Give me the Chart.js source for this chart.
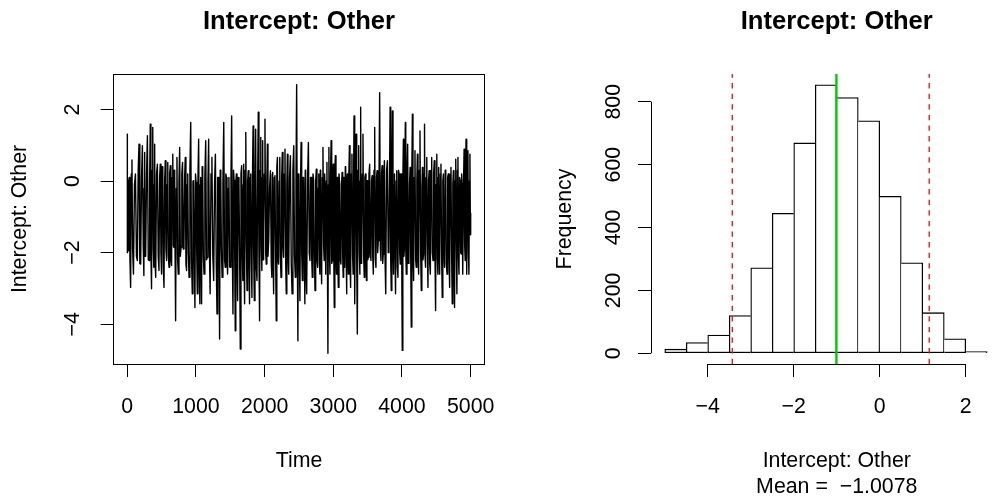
<!DOCTYPE html>
<html><head><meta charset="utf-8">
<script src="https://cdn.jsdelivr.net/npm/chart.js@4.4.1/dist/chart.umd.min.js"></script>
<style>
html,body{margin:0;padding:0;overflow:hidden;background:#fff;width:1002px;height:496px;}
canvas{position:absolute;top:0;}
#c1{left:0;}
#c2{left:501px;}
</style></head><body>
<canvas id="c1" width="501" height="496"></canvas>
<canvas id="c2" width="522" height="496"></canvas>
<script>
// ---------------- data ----------------
const titleText = 'Intercept: Other';
const nIter = 5000;
// trace: positions (iteration) of read spikes, upper/lower extremes, and core band values
const traceIter = [6,44,83,141,189,239,262,312,349,384,408,457,495,530,568,603,641,676,699,738,778,821,859,894,942,981,1015,1054,1078,1112,1160,1200,
1252,1302,1340,1375,1423,1456,1495,1535,1568,1602,1641,1680,1704,1739,1776,1811,1845,1884,1922,1957,1980,2020,2053,2103,2126,2165,2199,2234,2272,2311,2344,2394,2442,2481,
2510,2544,2583,2606,2656,2689,2729,2767,2802,2825,2864,2889,2918,2947,2981,3010,3043,3068,3107,3141,3166,3189,3214,3247,3286,3311,3345,3384,3407,3447,3480,3505,3544,3578,3617,3650,3690,3723,3757,
3806,3840,3873,3902,3937,3971,4000,4033,4058,4097,4131,4164,4204,4237,4277,4310,4339,4374,4408,4447,4485,4520,4543,4582,4616,4651,4689,4728,4761,4796,4826,4859,4884,4917,4942,4971,5000];
const traceHigh = [1.31,0.10,0.59,0.20,1.03,0.99,0.80,1.27,1.59,1.50,1.03,0.47,0.47,0.38,0.57,0.52,0.43,0.75,0.15,0.66,0.94,0.52,0.66,0.20,1.64,0.01,-0.04,1.17,0.10,0.10,1.13,1.17,
0.66,0.75,0.10,0.06,1.64,0.10,0.10,1.82,0.01,0.20,-0.08,0.43,0.47,1.36,0.29,0.20,1.54,1.45,1.92,1.22,1.13,1.73,1.03,0.29,0.24,0.15,0.66,0.66,0.80,0.89,0.75,0.71,0.99,2.69,
-0.46,1.08,0.10,-0.55,1.08,0.10,0.01,0.33,0.20,0.01,0.94,-0.08,0.52,0.94,1.13,0.47,0.71,0.10,-0.08,0.24,0.10,0.24,0.20,0.99,0.75,1.82,1.31,0.99,2.06,1.31,0.20,0.01,0.47,0.15,1.50,0.29,2.47,0.43,0.57,
0.57,2.06,1.96,0.20,0.29,0.20,0.20,1.17,1.64,1.03,0.38,1.87,0.85,0.75,1.40,0.38,1.59,0.66,0.29,0.66,0.57,0.75,0.38,0.47,0.20,0.01,0.20,0.38,0.29,0.61,0.66,0.01,-0.08,0.89,1.17,0.85,0.75];
const traceLow = [-1.94,-2.97,-2.60,-2.22,-2.32,-2.64,-2.04,-2.22,-3.01,-2.41,-2.69,-2.50,-2.60,-2.97,-2.22,-2.41,-2.36,-1.85,-3.90,-2.60,-1.85,-1.76,-2.50,-2.69,-3.15,-3.53,-3.15,-3.43,-3.43,-2.60,-2.13,-3.15,
-2.78,-3.71,-4.41,-2.69,-2.41,-2.60,-2.41,-3.71,-4.18,-3.34,-4.69,-2.78,-3.43,-3.06,-3.43,-3.25,-3.34,-2.78,-3.90,-2.50,-1.39,-2.32,-1.67,-2.69,-3.15,-3.90,-2.32,-2.69,-2.13,-3.15,-2.60,-3.15,-2.69,-4.46,
-3.34,-2.78,-3.43,-3.15,-2.22,-2.69,-3.06,-2.41,-2.60,-2.87,-2.22,-2.60,-4.81,-2.60,-2.22,-3.53,-2.60,-2.97,-2.32,-2.69,-2.41,-3.15,-2.60,-2.97,-2.60,-3.43,-4.27,-2.60,-2.22,-2.69,-2.78,-2.13,-2.22,-2.60,-2.41,-1.67,-2.22,-2.04,-3.15,
-1.85,-3.06,-2.60,-3.15,-2.69,-2.32,-4.73,-1.85,-2.60,-2.22,-4.08,-2.78,-2.41,-2.60,-3.06,-2.04,-2.41,-2.97,-2.60,-2.22,-3.62,-2.60,-2.60,-3.25,-2.41,-2.60,-2.97,-3.43,-3.53,-3.15,-2.60,-2.04,-2.60,-2.22,-2.60,-2.60,-1.01];
const traceCoreLow = [-2.0,-2.2,-1.9,-2.1,-2.3,-1.8,-2.1,-2.2,-2.0,-1.9,-2.3,-2.1,-2.0,-2.4,-1.9,-2.1,-2.2,-1.8,-2.0,-2.2,
-2.1,-1.9,-2.3,-2.0,-2.2,-2.1,-1.9,-2.4,-2.0,-2.1,-2.2,-1.8,-2.1,-2.3,-2.0,-1.9,-2.2,-2.1,-2.4,-2.0,
-1.9,-2.2,-2.1,-2.0,-2.3,-1.8,-2.1,-2.2,-2.0,-2.4,-2.1,-1.9,-2.2,-2.0,-2.1,-2.3,-1.9,-2.0,-2.2,-2.1,
-1.8,-2.2,-2.0,-2.3,-2.1,-1.9,-2.2,-2.0,-2.1,-2.4,-2.0,-2.1,-1.9,-2.2,-2.3,-2.0,-1.8,-2.1,-2.2,-2.0,
-2.3,-1.9,-2.1,-2.0,-2.2,-2.1,-2.4,-1.9,-2.0,-2.2,-2.1,-1.8,-2.2,-2.0,-2.3,-2.1,-1.9,-2.2,-2.0,-2.1,
-2.2,-2.0,-1.9,-2.3,-2.1,-2.0,-2.2,-1.8,-2.1,-2.4,-2.0,-2.2,-2.1,-1.9,-2.3,-2.0,-2.1,-2.2,-1.9,-2.0,
-2.2,-2.1,-1.8,-2.3,-2.0,-2.1,-2.2,-1.9,-2.1,-2.0,-2.3,-2.0,-2.1,-2.2,-1.9,-2.1,-2.0,-2.2,-1.8,-2.1,
-2.0,-1.5];
const traceCoreHigh = [0.0,0.2,-0.1,0.3,0.1,-0.2,0.2,0.0,0.3,-0.1,0.2,0.1,0.4,0.0,-0.1,0.2,0.1,0.3,-0.2,0.0,
0.2,0.1,-0.1,0.3,0.0,0.2,0.1,-0.1,0.4,0.1,0.0,0.2,-0.1,0.1,0.3,0.0,0.2,-0.2,0.1,0.3,
0.0,0.1,0.2,-0.1,0.3,0.0,0.1,0.2,-0.1,0.0,0.3,0.1,0.2,0.0,-0.2,0.2,0.1,0.4,0.0,0.1,
0.2,-0.1,0.1,0.3,0.0,0.2,-0.1,0.1,0.3,0.0,0.1,0.2,0.0,-0.2,0.3,0.1,0.2,0.0,-0.1,0.2,
0.1,0.3,0.0,0.2,-0.1,0.1,0.4,0.0,0.1,0.2,-0.1,0.1,0.3,0.0,0.2,0.1,-0.2,0.2,0.0,0.3,
0.1,-0.1,0.2,0.0,0.3,0.1,0.2,-0.1,0.0,0.3,0.2,0.0,0.1,0.3,-0.1,0.2,0.1,0.0,0.3,-0.2,
0.2,0.1,0.0,0.3,0.2,-0.1,0.1,0.2,0.0,0.3,0.1,0.2,-0.1,0.0,0.3,0.1,0.2,0.0,0.1,0.2,
0.0,-0.9];
const traceXTicks = [0,1000,2000,3000,4000,5000];
const traceYTicks = [-4,-2,0,2];

const histBreaks = [-5,-4.5,-4,-3.5,-3,-2.5,-2,-1.5,-1,-0.5,0,0.5,1,1.5,2,2.5,3];
const histCounts = [13,34,58,120,272,445,669,854,813,739,499,288,129,46,5,2];
const histXTicks = [-4,-2,0,2];
const histYTicks = [0,200,400,600,800];
const histMean = -1.0078;
const histLower = -3.43;
const histUpper = 1.15;

// ---------------- helpers ----------------
const FONT = "'Liberation Sans', Arial, Helvetica, sans-serif";
const F_AXIS = '21.33px ' + FONT;
const F_MAIN = 'bold 25.6px ' + FONT;
const fmt = v => String(v).replace('-', '\u2212');

function drawText(ctx, text, x, y, font, rot) {
  ctx.save();
  ctx.translate(x, y);
  if (rot) ctx.rotate(rot);
  ctx.font = font; ctx.fillStyle = '#000';
  ctx.textAlign = 'center'; ctx.textBaseline = 'alphabetic';
  ctx.fillText(text, 0, 0);
  ctx.restore();
}

// trace series, built from the read arrays (ordered: high spike, core, low spike, core)
const traceSeries = [];
for (let i = 0; i < traceIter.length; i++) {
  const t = traceIter[i];
  const gl = i > 0 ? t - traceIter[i - 1] : traceIter[1] - t;
  const gr = i < traceIter.length - 1 ? traceIter[i + 1] - t : gl;
  const pos = [t - 3 * gl / 8, t - gl / 8, t + gr / 8, t + 3 * gr / 8];
  const vals = [traceHigh[i], traceCoreLow[i], traceLow[i], traceCoreHigh[i]];
  for (let k = 0; k < 4; k++) traceSeries.push({ x: Math.min(nIter, Math.max(1, pos[k])), y: vals[k] });
}
const allVals = traceSeries.map(p => p.y);
const vMin = Math.min(...allVals), vMax = Math.max(...allVals);
const tYMin = vMin - 0.04 * (vMax - vMin), tYMax = vMax + 0.04 * (vMax - vMin);
const tXMin = 1 - 0.04 * (nIter - 1), tXMax = nIter + 0.04 * (nIter - 1);

const hXMin = histBreaks[0] - 0.04 * (histBreaks[histBreaks.length - 1] - histBreaks[0]);
const hXMax = histBreaks[histBreaks.length - 1] + 0.04 * (histBreaks[histBreaks.length - 1] - histBreaks[0]);
const hMaxC = Math.max(...histCounts);
const hYMin = -0.04 * hMaxC, hYMax = hMaxC * 1.04;
const histMids = histCounts.map((c, i) => (histBreaks[i] + histBreaks[i + 1]) / 2);

const gridOpts = { display: true, drawOnChartArea: false, drawTicks: true, tickLength: 13, color: '#000', tickColor: '#000', lineWidth: 1, tickWidth: 1, offset: false };

// ---------------- left: trace plot ----------------
const tracePlugin = {
  id: 'traceDecor',
  afterDraw(chart) {
    const { ctx, chartArea: ca, scales: { x, y } } = chart;
    ctx.save();
    ctx.strokeStyle = '#000'; ctx.lineWidth = 1;
    ctx.strokeRect(Math.floor(ca.left) + 0.5, Math.floor(ca.top) + 0.5, Math.round(ca.right - ca.left), Math.round(ca.bottom - ca.top));
    ctx.restore();
    const cx = (ca.left + ca.right) / 2, cy = (ca.top + ca.bottom) / 2;
    drawText(ctx, titleText, cx, 29, F_MAIN);
    x.ticks.forEach(t => drawText(ctx, fmt(t.value), x.getPixelForValue(t.value), 413, F_AXIS));
    y.ticks.forEach(t => drawText(ctx, fmt(t.value), 79, y.getPixelForValue(t.value), F_AXIS, -Math.PI / 2));
    drawText(ctx, 'Time', cx, 467, F_AXIS);
    drawText(ctx, titleText, 26, cy, F_AXIS, -Math.PI / 2);
  }
};

new Chart(document.getElementById('c1'), {
  type: 'line',
  data: { datasets: [{ data: traceSeries, borderColor: '#000', borderWidth: 1.4, pointRadius: 0, tension: 0, fill: false, borderJoinStyle: 'round', borderCapStyle: 'round' }] },
  options: {
    responsive: false, animation: false, events: [],
    layout: { padding: { top: 74, right: 16.6, left: 0, bottom: 0 } },
    plugins: { legend: { display: false }, tooltip: { enabled: false }, title: { display: false } },
    scales: {
      x: { type: 'linear', min: tXMin, max: tXMax, offset: false,
        afterBuildTicks: s => { s.ticks = traceXTicks.map(v => ({ value: v })); },
        afterFit: s => { s.height = 132; },
        ticks: { display: false }, grid: gridOpts, border: { display: false } },
      y: { type: 'linear', min: tYMin, max: tYMax,
        afterBuildTicks: s => { s.ticks = traceYTicks.map(v => ({ value: v })); },
        afterFit: s => { s.width = 113.6; },
        ticks: { display: false }, grid: gridOpts, border: { display: false } }
    }
  },
  plugins: [tracePlugin]
});

// ---------------- right: histogram ----------------
const histPlugin = {
  id: 'histDecor',
  afterDraw(chart) {
    const { ctx, chartArea: ca, scales: { x, y } } = chart;
    ctx.save();
    ctx.strokeStyle = '#000'; ctx.lineWidth = 1;
    ctx.beginPath();
    const by = Math.floor(ca.bottom) + 0.5, lx = Math.floor(ca.left) + 0.5;
    ctx.moveTo(x.getPixelForValue(histXTicks[0]), by);
    ctx.lineTo(x.getPixelForValue(histXTicks[histXTicks.length - 1]), by);
    ctx.moveTo(lx, y.getPixelForValue(histYTicks[0]));
    ctx.lineTo(lx, y.getPixelForValue(histYTicks[histYTicks.length - 1]));
    ctx.stroke();
    ctx.restore();
    const cx = (ca.left + ca.right) / 2, cy = (ca.top + ca.bottom) / 2;
    drawText(ctx, titleText, cx, 29, F_MAIN);
    x.ticks.forEach(t => drawText(ctx, fmt(t.value), x.getPixelForValue(t.value), 413, F_AXIS));
    y.ticks.forEach(t => drawText(ctx, fmt(t.value), 119, y.getPixelForValue(t.value), F_AXIS, -Math.PI / 2));
    drawText(ctx, 'Frequency', 70, cy, F_AXIS, -Math.PI / 2);
    drawText(ctx, titleText, cx, 467, F_AXIS);
    drawText(ctx, 'Mean =  ' + fmt(histMean.toFixed(4)), cx, 493, F_AXIS);
  }
};

const n = histCounts.length;
new Chart(document.getElementById('c2'), {
  type: 'bar',
  data: {
    datasets: [
      { type: 'line', data: [{ x: histMean, y: hYMin }, { x: histMean, y: hYMax }], borderColor: '#00CD00', borderWidth: 2.4, pointRadius: 0, order: 0 },
      { type: 'line', data: [{ x: histLower, y: hYMin }, { x: histLower, y: hYMax }], borderColor: '#FF0000', borderWidth: 1.3, borderDash: [5.3, 5.3], pointRadius: 0, order: 1 },
      { type: 'line', data: [{ x: histUpper, y: hYMin }, { x: histUpper, y: hYMax }], borderColor: '#FF0000', borderWidth: 1.3, borderDash: [5.3, 5.3], pointRadius: 0, order: 1 },
      { type: 'bar', data: histMids.map((m, i) => ({ x: m, y: histCounts[i] })),
        backgroundColor: '#FFFFFF', borderColor: '#000', borderSkipped: false,
        borderWidth: c => {
          const i = c.dataIndex;
          const h = histCounts[i];
          return { top: 1.3, bottom: 1.3,
            left: (i === 0 || h >= histCounts[i - 1]) ? 1.3 : 0,
            right: (i === n - 1 || h > histCounts[i + 1]) ? 1.3 : 0 };
        },
        barPercentage: 1, categoryPercentage: 1, order: 2 }
    ]
  },
  options: {
    responsive: false, animation: false, events: [],
    layout: { padding: { top: 74, right: 0.5, left: 0, bottom: 0 } },
    plugins: { legend: { display: false }, tooltip: { enabled: false }, title: { display: false } },
    scales: {
      x: { type: 'linear', min: hXMin, max: hXMax, offset: false,
        afterBuildTicks: s => { s.ticks = histXTicks.map(v => ({ value: v })); },
        afterFit: s => { s.height = 132; },
        ticks: { display: false }, grid: gridOpts, border: { display: false } },
      y: { type: 'linear', min: hYMin, max: hYMax,
        afterBuildTicks: s => { s.ticks = histYTicks.map(v => ({ value: v })); },
        afterFit: s => { s.width = 150; },
        ticks: { display: false }, grid: gridOpts, border: { display: false } }
    }
  },
  plugins: [histPlugin]
});
</script></body></html>
